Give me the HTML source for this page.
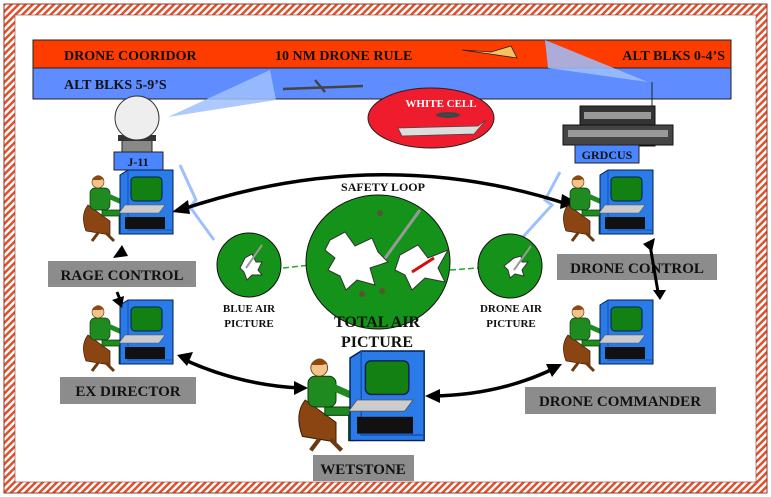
<!DOCTYPE html>
<html><head><style>
body{margin:0;background:#fff;}
svg{display:block;font-family:"Liberation Serif",serif;font-weight:bold;}
</style></head><body>
<svg width="771" height="497" viewBox="0 0 771 497" xmlns="http://www.w3.org/2000/svg">
<defs>
<pattern id="st" width="5" height="5" patternUnits="userSpaceOnUse" patternTransform="rotate(45)">
<rect width="5" height="5" fill="#fff"/><rect width="2.5" height="5" fill="#e0502c"/></pattern>
<g id="op">
<path d="M-32 30 q-8 10 -2 26 l24 4 l0-14 z" fill="#8b4513" stroke="#3a1a00" stroke-width="0.7"/>
<path d="M-22 58 l-6 8 M-14 58 l8 8" stroke="#6b3a10" stroke-width="3"/>
<rect x="-30" y="13" width="20" height="22" rx="5" fill="#1f8a1f" stroke="#0a3a0a" stroke-width="0.7"/>
<circle cx="-22" cy="7" r="6" fill="#f2c48a" stroke="#5a3000" stroke-width="0.6"/>
<path d="M-28 5 q6 -9 12 -1 l-4 1 z" fill="#8b4a10"/>
<path d="M-18 35 l22 0 l0 24 l-5 0 l0-18 l-17 0 z" fill="#1f8a1f" stroke="#0a3a0a" stroke-width="0.7"/>
<path d="M-14 20 l18 8" stroke="#1f8a1f" stroke-width="5"/>
<path d="M0 0 l8 -5 l45 0 l0 64 l-53 0 z" fill="#2a7ae8" stroke="#002050" stroke-width="1"/>
<path d="M8 -5 l0 60 l45 0" fill="none" stroke="#1550b0" stroke-width="1"/>
<rect x="11" y="2" width="31" height="24" rx="4" fill="#128012" stroke="#002050"/>
<path d="M5 30 l40 0 l-6 8 l-40 0 z" fill="#ccc" stroke="#555" stroke-width="0.6"/>
<rect x="5" y="42" width="40" height="12" fill="#111"/>
</g>
</defs>
<rect x="4" y="4" width="763" height="489" fill="url(#st)" stroke="#8a3a2a"/>
<rect x="15" y="15" width="741" height="467" fill="#fff" stroke="#8a3a2a" stroke-width="0.6"/>
<!-- bars -->
<rect x="33" y="40" width="698" height="28" fill="#ff3c00" stroke="#222"/>
<rect x="33" y="68" width="698" height="31" fill="#5f8cff" stroke="#222"/>
<text x="64" y="60" font-size="14" fill="#111">DRONE COORIDOR</text>
<text x="275" y="60" font-size="14" fill="#111">10 NM DRONE RULE</text>
<text x="725" y="60" font-size="14" fill="#111" text-anchor="end">ALT BLKS 0-4’S</text>
<text x="64" y="89" font-size="14" fill="#111">ALT BLKS 5-9’S</text>
<path d="M462 50 l55 8 l-6 -12 l-20 6 z" fill="#f8c060" stroke="#222" stroke-width="0.8"/>
<path d="M283 89 l80 -3 M315 80 l10 12" stroke="#444" stroke-width="2.5"/>
<!-- beams -->
<polygon points="168,117 270,70 276,100" fill="#9fc0ff" opacity="0.85"/>
<polygon points="648,82 545,40 548,68" fill="#9fc0ff" opacity="0.85"/>
<!-- J-11 radome -->
<rect x="122" y="140" width="30" height="12" fill="#888" stroke="#222"/>
<rect x="118" y="135" width="38" height="6" fill="#333"/>
<circle cx="137" cy="118" r="22" fill="#eee" stroke="#333"/>
<rect x="114" y="152" width="49" height="18" fill="#4a86ff" stroke="#222"/>
<text x="138" y="166" font-size="12" text-anchor="middle" fill="#111">J-11</text>
<!-- GRDCUS -->
<line x1="652" y1="82" x2="652" y2="108" stroke="#222"/>
<rect x="580" y="106" width="75" height="40" fill="#333" stroke="#111"/>
<rect x="563" y="125" width="110" height="20" fill="#444" stroke="#111"/>
<rect x="584" y="112" width="67" height="7" fill="#999"/>
<rect x="568" y="130" width="100" height="7" fill="#999"/>
<rect x="575" y="145" width="64" height="18" fill="#4a86ff" stroke="#222"/>
<text x="607" y="159" font-size="12" text-anchor="middle" fill="#111">GRDCUS</text>
<!-- white cell -->
<ellipse cx="431" cy="118" rx="63" ry="30" fill="#ee1c2c" stroke="#222"/>
<text x="441" y="107" font-size="11" fill="#fff" text-anchor="middle">WHITE CELL</text>
<path d="M398 128 l80 -2 l8 -6 l-12 14 l-72 2 z" fill="#ddd" stroke="#444" stroke-width="0.7"/>
<ellipse cx="448" cy="115" rx="12" ry="3" fill="#444"/>
<!-- lightning -->
<polyline points="180,165 196,200 190,207 214,240" fill="none" stroke="#9fc0ff" stroke-width="3"/>
<polyline points="560,172 545,200 552,205 522,238" fill="none" stroke="#9fc0ff" stroke-width="3"/>
<!-- safety loop -->
<path d="M180 210 Q380 142 570 205" fill="none" stroke="#000" stroke-width="3.5"/>
<polygon points="172,212 188,200 190,214" fill="#000"/>
<polygon points="578,203 562,194 560,209" fill="#000"/>
<text x="383" y="191" font-size="12" text-anchor="middle" fill="#111">SAFETY LOOP</text>
<!-- dashed links -->
<line x1="283" y1="268" x2="310" y2="265" stroke="#2a2" stroke-width="1.5" stroke-dasharray="6 3"/>
<line x1="450" y1="270" x2="478" y2="268" stroke="#2a2" stroke-width="1.5" stroke-dasharray="6 3"/>
<!-- radars -->
<ellipse cx="378" cy="262" rx="72" ry="67" fill="#15921a" stroke="#111"/>
<line x1="383" y1="261" x2="420" y2="210" stroke="#999" stroke-width="3"/>
<polygon points="330,240 345,232 355,246 372,238 378,252 388,262 370,268 375,285 357,280 346,290 340,276 328,270 335,258 325,250" fill="#fff" stroke="#333"/>
<polygon points="400,255 418,245 428,258 448,250 438,268 445,282 425,278 412,290 405,275 395,270" fill="#fff" stroke="#333"/>
<path d="M412 272 l22 -14" stroke="#d01010" stroke-width="3"/>
<circle cx="380" cy="213" r="3" fill="#553"/><circle cx="362" cy="294" r="3" fill="#553"/><circle cx="382" cy="291" r="3" fill="#553"/>
<circle cx="249" cy="265" r="32" fill="#15921a" stroke="#111"/>
<polygon points="245,258 252,254 256,262 262,262 258,270 262,275 252,275 247,280 244,272 240,268" fill="#fff" stroke="#333"/>
<line x1="246" y1="268" x2="262" y2="245" stroke="#999" stroke-width="2"/>
<circle cx="510" cy="266" r="32" fill="#15921a" stroke="#111"/>
<polygon points="514,258 521,256 522,262 528,262 522,270 524,276 515,274 510,278 508,270 504,266" fill="#fff" stroke="#333"/>
<line x1="514" y1="270" x2="531" y2="246" stroke="#999" stroke-width="2"/>
<text x="249" y="312" font-size="11" text-anchor="middle" fill="#111">BLUE AIR</text>
<text x="249" y="327" font-size="11" text-anchor="middle" fill="#111">PICTURE</text>
<text x="511" y="312" font-size="11" text-anchor="middle" fill="#111">DRONE AIR</text>
<text x="511" y="327" font-size="11" text-anchor="middle" fill="#111">PICTURE</text>
<text x="377" y="327" font-size="16" text-anchor="middle" fill="#111">TOTAL AIR</text>
<text x="377" y="347" font-size="16" text-anchor="middle" fill="#111">PICTURE</text>
<!-- operators -->
<use href="#op" transform="translate(120,175)"/>
<use href="#op" transform="translate(120,305)"/>
<use href="#op" transform="translate(600,175)"/>
<use href="#op" transform="translate(600,305)"/>
<use href="#op" transform="translate(350,358) scale(1.4)"/>
<!-- labels -->
<rect x="48" y="261" width="148" height="26" fill="#8c8c8c"/>
<text x="122" y="280" font-size="15" text-anchor="middle" fill="#111">RAGE CONTROL</text>
<rect x="557" y="254" width="160" height="26" fill="#8c8c8c"/>
<text x="637" y="273" font-size="15" text-anchor="middle" fill="#111">DRONE CONTROL</text>
<rect x="60" y="377" width="136" height="27" fill="#8c8c8c"/>
<text x="128" y="396" font-size="15" text-anchor="middle" fill="#111">EX DIRECTOR</text>
<rect x="525" y="387" width="191" height="27" fill="#8c8c8c"/>
<text x="620" y="406" font-size="15" text-anchor="middle" fill="#111">DRONE COMMANDER</text>
<rect x="313" y="455" width="101" height="26" fill="#8c8c8c"/>
<text x="363" y="474" font-size="15" text-anchor="middle" fill="#111">WETSTONE</text>
<!-- arrows -->
<line x1="117" y1="292" x2="121" y2="302" stroke="#000" stroke-width="3"/>
<polygon points="122,308 112,300 124,296" fill="#000"/>
<polygon points="122,245 113,258 128,256" fill="#000"/>
<path d="M185 360 Q240 385 300 388" fill="none" stroke="#000" stroke-width="3.5"/>
<polygon points="177,355 193,352 187,366" fill="#000"/>
<polygon points="308,388 294,381 294,395" fill="#000"/>
<path d="M432 396 Q500 395 555 368" fill="none" stroke="#000" stroke-width="3.5"/>
<polygon points="425,396 440,389 440,403" fill="#000"/>
<polygon points="562,364 546,364 552,377" fill="#000"/>
<line x1="650" y1="245" x2="658" y2="292" stroke="#000" stroke-width="3"/>
<polygon points="643,244 655,238 652,252" fill="#000"/>
<polygon points="653,290 666,290 660,300" fill="#000"/>
</svg>
</body></html>
